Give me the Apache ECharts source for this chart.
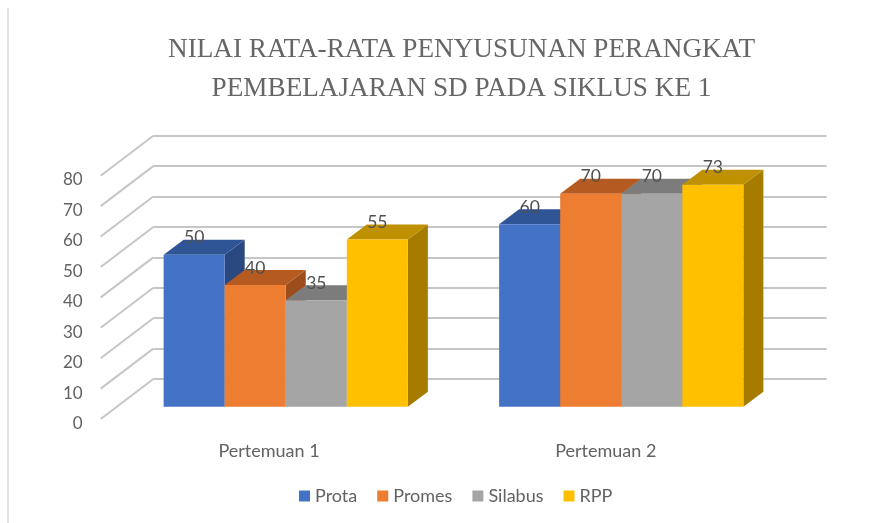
<!DOCTYPE html>
<html>
<head>
<meta charset="utf-8">
<style>
    html, body { margin: 0; padding: 0; background: #fff; }
    #chart { width: 883px; height: 523px; }
</style>
<script src="https://cdn.jsdelivr.net/npm/echarts@6/dist/echarts.min.js"></script>
</head>
<body>
<div id="chart"></div>
<script>
const titleText = 'NILAI RATA-RATA PENYUSUNAN PERANGKAT\nPEMBELAJARAN SD PADA SIKLUS KE 1';
const categories = ['Pertemuan 1', 'Pertemuan 2'];
const yTicks = [0, 10, 20, 30, 40, 50, 60, 70, 80];
const seriesNames = ['Prota', 'Promes', 'Silabus', 'RPP'];
const prota = [50, 60];
const promes = [40, 70];
const silabus = [35, 70];
const rpp = [55, 73];
const seriesValues = [prota, promes, silabus, rpp];

const frontColors = ['#4472C4', '#ED7D31', '#A5A5A5', '#FFC000'];
const topColors = ['#2F5597', '#B55A20', '#7C7C7C', '#BF9000'];
const sideColors = ['#2A4880', '#9C4D1B', '#6B6B6B', '#A67C00'];

const gridLineColor = '#C6C6C6';
const textColor = '#626262';
const labelFont = 'Lato';

// bars are 3D boxes, depth is a screen offset from the front face
const barDepthX = 20;
const barDepthY = -15;
const barBandRatio = 0.182;
// side wall of the chart, from the back wall toward the viewer
const wallDepthX = -52.6;
const wallDepthY = 40;

function renderBar(params, api) {
    const i = params.seriesIndex - 1;
    const band = api.size([1, 0])[0];
    const w = band * barBandRatio;
    const top = api.coord([api.value(0), api.value(1)]);
    const base = api.coord([api.value(0), 0]);
    const x0 = top[0] + (i - 2) * w;
    const x1 = x0 + w;
    return {
        type: 'group',
        children: [
            {
                type: 'polygon',
                shape: { points: [[x1, top[1]], [x1 + barDepthX, top[1] + barDepthY], [x1 + barDepthX, base[1] + barDepthY], [x1, base[1]]] },
                style: { fill: sideColors[i] }
            },
            {
                type: 'polygon',
                shape: { points: [[x0, top[1]], [x0 + barDepthX, top[1] + barDepthY], [x1 + barDepthX, top[1] + barDepthY], [x1, top[1]]] },
                style: { fill: topColors[i] }
            },
            {
                type: 'rect',
                shape: { x: x0, y: top[1], width: w, height: base[1] - top[1] },
                style: { fill: frontColors[i] }
            },
            {
                type: 'text',
                z2: 100,
                style: {
                    text: String(api.value(1)),
                    x: (x0 + x1) / 2,
                    y: top[1] - 17,
                    align: 'center',
                    verticalAlign: 'middle',
                    fill: '#505050',
                    font: '17.5px ' + labelFont
                }
            }
        ]
    };
}

function renderWallLine(params, api) {
    const p = api.coord([0, api.value(0)]);
    return {
        type: 'line',
        shape: { x1: p[0], y1: p[1], x2: p[0] + wallDepthX, y2: p[1] + wallDepthY },
        style: { stroke: gridLineColor, lineWidth: 2 }
    };
}

const barSeries = seriesNames.map((name, i) => ({
    name: name,
    type: 'custom',
    xAxisIndex: 2,
    yAxisIndex: 2,
    itemStyle: { color: frontColors[i] },
    encode: { x: 0, y: 1 },
    data: seriesValues[i].map((v, c) => [c, v]),
    renderItem: renderBar
}));

const chart = echarts.init(document.getElementById('chart'));
chart.setOption({
    animation: false,
    backgroundColor: '#fff',
    title: {
        text: titleText,
        left: 456.5,
        top: 25,
        textAlign: 'center',
        textStyle: {
            fontFamily: 'Liberation Serif',
            fontWeight: 'normal',
            fontSize: 27.2,
            lineHeight: 39,
            color: '#666666'
        }
    },
    legend: {
        data: seriesNames,
        left: 294,
        top: 482,
        icon: 'rect',
        itemWidth: 11,
        itemHeight: 11,
        itemGap: 20,
        textStyle: {
            fontFamily: labelFont,
            fontSize: 18,
            color: textColor,
            padding: [13, 0, 0, 0]
        }
    },
    graphic: [
        {
            type: 'line',
            silent: true,
            shape: { x1: 8, y1: 8, x2: 8, y2: 523 },
            style: { stroke: '#E4E4E4', lineWidth: 2 }
        }
    ],
    grid: [
        // back wall
        { left: 153.3, top: 135.7, width: 673.4, height: 243.3 },
        // front edge, only carries the tick labels
        { left: 100.7, top: 180, width: 673.4, height: 244 },
        // plane of the bar fronts
        { left: 118, top: 163.4, width: 671, height: 243.3 }
    ],
    xAxis: [
        { gridIndex: 0, type: 'value', min: 0, max: 1, show: false },
        {
            gridIndex: 1,
            type: 'category',
            data: categories,
            axisLine: { show: false },
            axisTick: { show: false },
            axisLabel: { margin: 18, fontFamily: labelFont, fontSize: 18, color: textColor }
        },
        { gridIndex: 2, type: 'category', data: categories, show: false }
    ],
    yAxis: [
        {
            gridIndex: 0,
            type: 'value',
            min: 0,
            max: 80,
            interval: 10,
            axisLine: { show: false },
            axisTick: { show: false },
            axisLabel: { show: false },
            splitLine: { show: true, lineStyle: { color: gridLineColor, width: 2 } }
        },
        {
            gridIndex: 1,
            type: 'value',
            min: 0,
            max: 80,
            interval: 10,
            axisLine: { show: false },
            axisTick: { show: false },
            splitLine: { show: false },
            axisLabel: { margin: 18, fontFamily: labelFont, fontSize: 17, color: textColor }
        },
        { gridIndex: 2, type: 'value', min: 0, max: 80, show: false }
    ],
    series: [
        {
            type: 'custom',
            xAxisIndex: 0,
            yAxisIndex: 0,
            encode: { y: 0 },
            data: yTicks.map(v => [v]),
            renderItem: renderWallLine
        }
    ].concat(barSeries)
});
</script>
</body>
</html>
